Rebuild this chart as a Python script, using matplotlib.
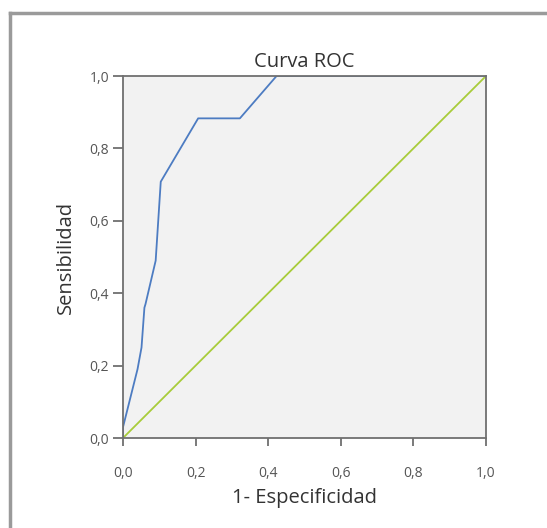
import matplotlib
matplotlib.use("Agg")
import matplotlib.pyplot as plt
from matplotlib.lines import Line2D
from matplotlib.ticker import FuncFormatter

# Datos de la curva ROC
fpr = [0.0, 0.0, 0.04, 0.051, 0.059, 0.062, 0.09, 0.104, 0.207, 0.322, 0.423, 1.0]
tpr = [0.0, 0.03, 0.19, 0.25, 0.36, 0.37, 0.49, 0.708, 0.883, 0.883, 1.0, 1.0]
ref_x = [0.0, 1.0]
ref_y = [0.0, 1.0]
ticks = [0.0, 0.2, 0.4, 0.6, 0.8, 1.0]

plt.rcParams['font.family'] = ['Open Sans', 'DejaVu Sans']

fig = plt.figure(figsize=(5.47, 5.28), dpi=100)
ax = fig.add_axes([123/547, 90/528, 363/547, 362/528])
ax.set_facecolor('#f2f2f2')

ax.plot(ref_x, ref_y, color='#a8cc3a', lw=1.3)
ax.plot(fpr, tpr, color='#4d7cc2', lw=1.3)

ax.set_xlim(0, 1)
ax.set_ylim(0, 1)
ax.set_xticks(ticks)
ax.set_yticks(ticks)
fmt = FuncFormatter(lambda v, p: f"{v:.1f}".replace('.', ','))
ax.xaxis.set_major_formatter(fmt)
ax.yaxis.set_major_formatter(fmt)
ax.tick_params(axis='both', direction='out', width=1.3, color='#707070',
               labelsize=10, labelcolor='#555555')
ax.tick_params(axis='x', length=6, pad=14)
ax.tick_params(axis='y', length=7, pad=3)
for s in ax.spines.values():
    s.set_color('#707070')
    s.set_linewidth(1.3)

ax.set_title('Curva ROC', fontsize=14.5, color='#333333', pad=6.5)
ax.set_xlabel('1- Especificidad', fontsize=14.5, color='#333333', labelpad=5)
ax.set_ylabel('Sensibilidad', fontsize=14.5, color='#333333', labelpad=10)

# marco gris del visor
fig.add_artist(Line2D([10/547, 10/547], [0, 1 - 13/528], transform=fig.transFigure,
                      color='#9a9a9a', lw=2.5))
fig.add_artist(Line2D([10/547, 1], [1 - 13/528, 1 - 13/528], transform=fig.transFigure,
                      color='#9a9a9a', lw=2.5))

fig.savefig('out.png', dpi=100)
